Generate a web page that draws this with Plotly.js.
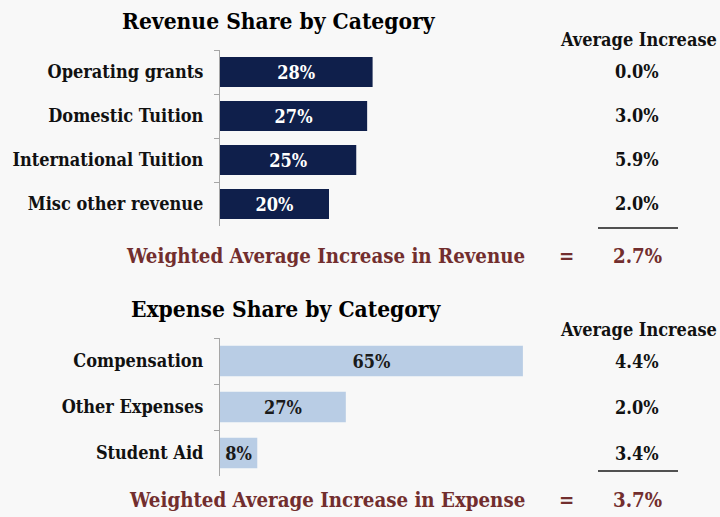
<!DOCTYPE html>
<html>
<head>
<meta charset="utf-8">
<script src="https://cdn.plot.ly/plotly-3.0.1.min.js"></script>
<style>html,body{margin:0;padding:0;background:#f8f8f8;}#chart{width:720px;height:517px;}</style>
</head>
<body>
<div id="chart"></div>
<script>
// ---- Data ----
const revenueCategories = ["Operating grants", "Domestic Tuition", "International Tuition", "Misc other revenue"];
const revenueShare = [28, 27, 25, 20];
const revenueIncrease = [0.0, 3.0, 5.9, 2.0];
const revenueWeighted = 2.7;

const expenseCategories = ["Compensation", "Other Expenses", "Student Aid"];
const expenseShare = [65, 27, 8];
const expenseIncrease = [4.4, 2.0, 3.4];
const expenseWeighted = 3.7;

const revenueTitle = "Revenue Share by Category";
const expenseTitle = "Expense Share by Category";
const increaseHeader = "Average Increase";
const revenueWeightedLabel = "Weighted Average Increase in Revenue";
const expenseWeightedLabel = "Weighted Average Increase in Expense";

// ---- Styling ----
const FONT = "DejaVu Serif Condensed, DejaVu Serif, serif";
const W = 720, H = 517;
const px = v => v / W;
const py = v => 1 - v / H;
const navy = "#0f1f4b";
const lightBlue = "#b9cde5";
const darkRed = "#722e2e";
const axisGray = "#a6a6a6";
const FS = 18;

const traces = [
  {
    type: "bar", orientation: "h",
    y: revenueCategories, x: revenueShare,
    xaxis: "x", yaxis: "y",
    marker: {color: navy},
    text: revenueShare.map(v => v + "%"),
    textposition: "inside", insidetextanchor: "middle", constraintext: "none",
    textfont: {family: FONT, size: FS, color: "#ffffff", weight: "bold"},
    hoverinfo: "skip", width: 0.68
  },
  {
    type: "bar", orientation: "h",
    y: expenseCategories, x: expenseShare,
    xaxis: "x2", yaxis: "y2",
    marker: {color: lightBlue},
    text: expenseShare.map(v => v + "%"),
    textposition: "inside", insidetextanchor: "middle", constraintext: "none",
    textfont: {family: FONT, size: FS, color: "#1a1a1a", weight: "bold"},
    hoverinfo: "skip", width: 0.66
  }
];

const revTop = 50, revBot = 226, expTop = 338, expBot = 476;
const axisLeft = 220, axisRight = 580;
const plotW = axisRight - axisLeft;

const yaxisCommon = {
  autorange: "reversed", showline: true, linecolor: axisGray, linewidth: 1,
  ticks: "outside", tickson: "boundaries", ticklen: 5, tickcolor: axisGray,
  showgrid: false, zeroline: false, ticklabelstandoff: 12,
  tickfont: {family: FONT, size: FS, color: "#111111", weight: "bold"}
};

const annotations = [];
function txt(text, x, y, opts) {
  annotations.push(Object.assign({
    text: text, x: x, y: y, xref: "paper", yref: "paper",
    showarrow: false, xanchor: "center", yanchor: "middle",
    font: {family: FONT, size: FS, color: "#111111", weight: "bold"}
  }, opts || {}));
}

// Titles
const titleFont = {family: FONT, size: 22.6, color: "#000000", weight: "bold"};
txt(revenueTitle, px(279), py(21), {font: titleFont});
txt(expenseTitle, px(286), py(309), {font: titleFont});
// Headers
txt(increaseHeader, px(638), py(40), {});
txt(increaseHeader, px(638), py(329), {});
// Increase values aligned with categories
revenueIncrease.forEach((v, i) => {
  annotations.push({text: v.toFixed(1) + "%", x: px(661), xanchor: "right", y: revenueCategories[i], yref: "y", xref: "paper",
    yanchor: "middle", showarrow: false, font: {family: FONT, size: FS, color: "#111111", weight: "bold"}});
});
expenseIncrease.forEach((v, i) => {
  annotations.push({text: v.toFixed(1) + "%", x: px(661), xanchor: "right", y: expenseCategories[i], yref: "y2", xref: "paper",
    yanchor: "middle", showarrow: false, font: {family: FONT, size: FS, color: "#111111", weight: "bold"}});
});
// Weighted averages
const redFont = {family: FONT, size: 20.3, color: darkRed, weight: "bold"};
txt(revenueWeightedLabel, px(527), py(256), {xanchor: "right", font: redFont});
txt("=", px(566), py(256), {font: redFont});
txt(revenueWeighted.toFixed(1) + "%", px(664), py(256), {xanchor: "right", font: redFont});
txt(expenseWeightedLabel, px(527), py(500), {xanchor: "right", font: redFont});
txt("=", px(566), py(500), {font: redFont});
txt(expenseWeighted.toFixed(1) + "%", px(664), py(500), {xanchor: "right", font: redFont});

const shapes = [
  {type: "line", xref: "paper", yref: "paper", x0: px(598), x1: px(678), y0: py(228), y1: py(228), line: {color: "#1a1a1a", width: 1.5}},
  {type: "line", xref: "paper", yref: "paper", x0: px(598), x1: px(678), y0: py(471), y1: py(471), line: {color: "#1a1a1a", width: 1.5}}
];

const layout = {
  width: W, height: H,
  margin: {l: 0, r: 0, t: 0, b: 0},
  paper_bgcolor: "#f8f8f8", plot_bgcolor: "rgba(0,0,0,0)",
  showlegend: false,
  xaxis: {domain: [px(axisLeft), px(axisRight)], range: [0, plotW / 5.45], visible: false, fixedrange: true},
  yaxis: Object.assign({domain: [py(revBot), py(revTop)], anchor: "x"}, yaxisCommon),
  xaxis2: {domain: [px(axisLeft), px(axisRight)], range: [0, plotW / 4.66], visible: false, anchor: "y2"},
  yaxis2: Object.assign({domain: [py(expBot), py(expTop)], anchor: "x2"}, yaxisCommon),
  annotations: annotations,
  shapes: shapes
};

Plotly.newPlot("chart", traces, layout, {displayModeBar: false, staticPlot: true});
</script>
</body>
</html>
